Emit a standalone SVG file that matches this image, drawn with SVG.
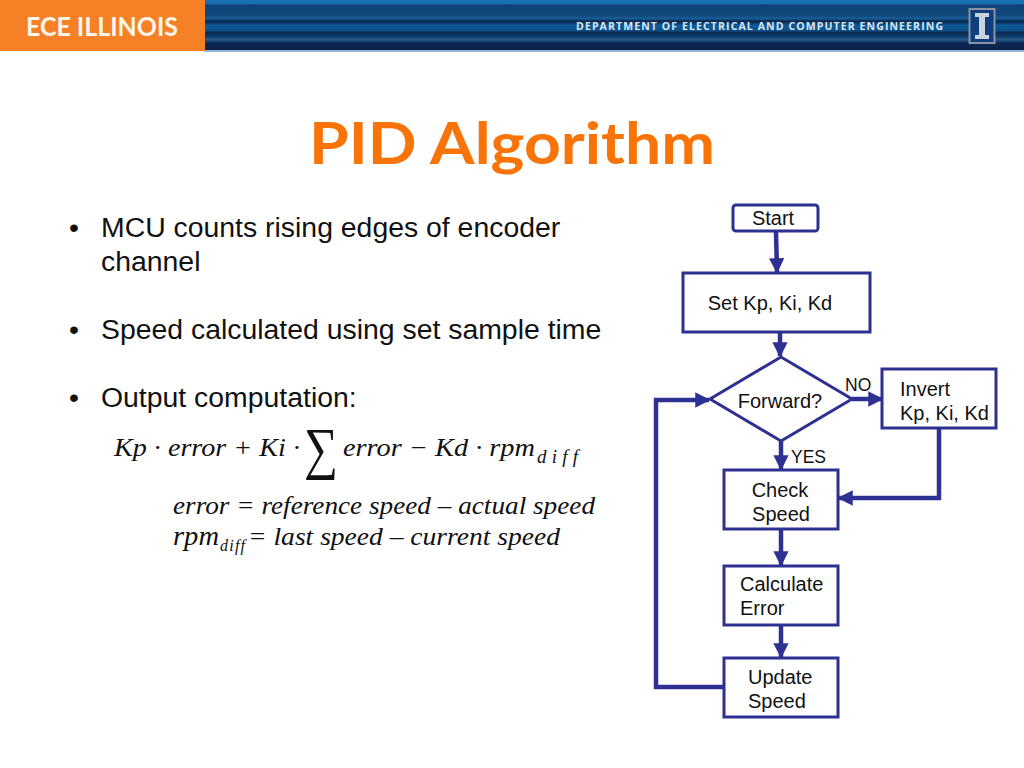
<svg xmlns="http://www.w3.org/2000/svg" width="1024" height="768" viewBox="0 0 1024 768">
<style>
.n{fill:#fff;stroke:#2e3192;stroke-width:3}
.c{fill:none;stroke:#2e3192;stroke-width:4.5}
.f{font-family:"Liberation Sans",Arial,sans-serif;font-size:20px;fill:#111}
.l{font-family:"Liberation Sans",Arial,sans-serif;font-size:17.500px;fill:#111}
.b{font-family:"Liberation Sans",Arial,sans-serif;font-size:28.400px;fill:#111}
.m{font-family:"Liberation Serif","Times New Roman",serif;font-style:italic;fill:#111}
</style>
<defs>
<marker id="a" viewBox="0 0 10 10" refX="9" refY="5" markerWidth="3.4" markerHeight="3.4" orient="auto"><path d="M0 0L10 5L0 10Z" fill="#2e3192"/></marker>
<linearGradient id="bar" x1="0" y1="0" x2="0" y2="1">
<stop offset="0" stop-color="#1b72b5"/><stop offset=".07" stop-color="#1a6cac"/><stop offset=".1" stop-color="#0f4376"/><stop offset=".3" stop-color="#0f477c"/><stop offset=".36" stop-color="#1a5d96"/><stop offset=".42" stop-color="#08264e"/><stop offset=".5" stop-color="#0f5a98"/><stop offset=".6" stop-color="#0d4f88"/><stop offset=".64" stop-color="#08264e"/><stop offset=".72" stop-color="#103f70"/><stop offset=".78" stop-color="#2a5a88"/><stop offset=".84" stop-color="#0a2a55"/><stop offset=".97" stop-color="#0a2148"/><stop offset="1" stop-color="#0e3566"/>
</linearGradient>
</defs>
<rect width="1024" height="768" fill="#fff"/>
<g id="header">
<rect x="204" y="0" width="820" height="51" fill="url(#bar)"/>
<rect x="204" y="50" width="820" height="2" fill="#8fb8d8"/>
<rect x="0" y="0" width="205" height="51" fill="#f58025"/>
<text x="26" y="36" font-family="Lato,'Open Sans',sans-serif" font-size="27" font-weight="700" fill="#fff6ea" textLength="152" lengthAdjust="spacingAndGlyphs">ECE ILLINOIS</text>
<text x="576" y="30" font-family="'Open Sans','Liberation Sans',sans-serif" font-size="10.500" font-weight="700" fill="#dce8f2" textLength="367" lengthAdjust="spacing">DEPARTMENT OF ELECTRICAL AND COMPUTER ENGINEERING</text>
<rect x="969.500" y="9" width="25" height="34" fill="#0f3f7c" stroke="#8a93a0" stroke-width="2"/>
<path d="M975 13H989V17H985V35H989V39H975V35H979V17H975Z" fill="#c8d4dc"/>
</g>
<text x="512" y="164" text-anchor="middle" font-family="Lato,'Open Sans',sans-serif" font-size="58" font-weight="700" fill="#f87408" textLength="406" lengthAdjust="spacingAndGlyphs">PID Algorithm</text>
<g id="bullets">
<text class="b" x="69" y="237">•</text><text class="b" x="101" y="237">MCU counts rising edges of encoder</text>
<text class="b" x="101" y="271">channel</text>
<text class="b" x="69" y="339">•</text><text class="b" x="101" y="339">Speed calculated using set sample time</text>
<text class="b" x="69" y="407">•</text><text class="b" x="101" y="407">Output computation:</text>
</g>
<g id="formula">
<text class="m" x="114" y="456" font-size="25" textLength="186" lengthAdjust="spacingAndGlyphs">Kp · error + Ki ·</text>
<text x="304" y="468" font-family="'Liberation Serif',serif" font-size="58" fill="#111" textLength="34" lengthAdjust="spacingAndGlyphs">∑</text>
<text class="m" x="343" y="456" font-size="25" textLength="192" lengthAdjust="spacingAndGlyphs">error − Kd · rpm</text>
<text class="m" x="537" y="463" font-size="19" textLength="41" lengthAdjust="spacing">diff</text>
<text class="m" x="173" y="514" font-size="26" textLength="422" lengthAdjust="spacingAndGlyphs">error = reference speed – actual speed</text>
<text class="m" x="173" y="545" font-size="27" textLength="46" lengthAdjust="spacingAndGlyphs">rpm</text>
<text class="m" x="220" y="551" font-size="16" textLength="25" lengthAdjust="spacing">diff</text>
<text class="m" x="248" y="545" font-size="26" textLength="312" lengthAdjust="spacingAndGlyphs">= last speed – current speed</text>
</g>
<g id="connectors">
<path class="c" d="M776 232L777 272" marker-end="url(#a)"/>
<path class="c" d="M780 333V356" marker-end="url(#a)"/>
<path class="c" d="M852 399H882" marker-end="url(#a)"/>
<path class="c" d="M781 441V469" marker-end="url(#a)"/>
<path class="c" d="M939 428V498H839" marker-end="url(#a)"/>
<path class="c" d="M781 530V565" marker-end="url(#a)"/>
<path class="c" d="M781 626V657" marker-end="url(#a)"/>
<path class="c" d="M724 687H656V400H709" marker-end="url(#a)"/>
</g>
<g id="start"><rect class="n" x="733" y="205" width="85" height="26" rx="3"/><text class="f" x="773" y="225" text-anchor="middle">Start</text></g>
<g id="set"><rect class="n" x="683" y="273" width="187" height="59"/><text class="f" x="770" y="310" text-anchor="middle">Set Kp, Ki, Kd</text></g>
<g id="forward"><path class="n" d="M781 357L852 399L781 441L710 399Z"/><text class="f" x="780" y="408" text-anchor="middle">Forward?</text></g>
<g id="invert"><rect class="n" x="882" y="369" width="114" height="59"/><text class="f" x="900" y="396">Invert</text><text class="f" x="900" y="420">Kp, Ki, Kd</text></g>
<g id="check"><rect class="n" x="724" y="470" width="114" height="59"/><text class="f" x="780" y="497" text-anchor="middle">Check</text><text class="f" x="781" y="521" text-anchor="middle">Speed</text></g>
<g id="calc"><rect class="n" x="724" y="566" width="114" height="59"/><text class="f" x="740" y="591">Calculate</text><text class="f" x="740" y="615">Error</text></g>
<g id="update"><rect class="n" x="724" y="658" width="114" height="59"/><text class="f" x="748" y="684">Update</text><text class="f" x="748" y="708">Speed</text></g>
<g id="labels"><text class="l" x="845" y="391">NO</text><text class="l" x="791" y="463">YES</text></g>
</svg>
